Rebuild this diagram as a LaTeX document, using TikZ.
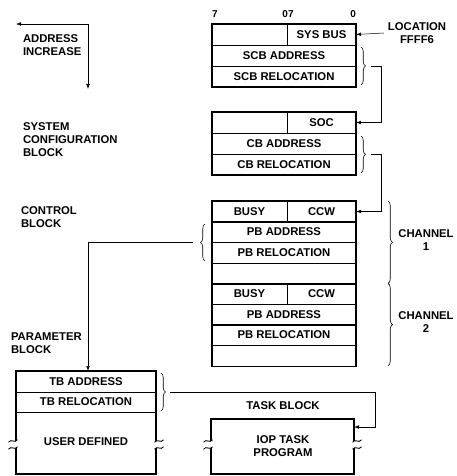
\documentclass[tikz,border=0pt]{standalone}
\usepackage{fontspec}
\setmainfont{Liberation Sans}
\usetikzlibrary{arrows.meta,decorations.pathreplacing,calc}
\begin{document}
\begin{tikzpicture}[x=1pt,y=-1pt,
  every node/.style={inner sep=0pt, outer sep=0pt, font=\fontsize{11.3}{13}\selectfont\bfseries},
  cell/.style={draw, line width=0.55pt, minimum height=21pt, anchor=north west},
  full/.style={cell, minimum width=144pt},
  lefthalf/.style={cell, minimum width=75pt},
  righthalf/.style={cell, minimum width=69pt},
  frame/.style={line width=1.1pt},
  conn/.style={line width=0.5pt},
  arr/.style={conn, -{Latex[length=5pt,width=3.6pt]}},
  br/.style={decorate, decoration={brace, amplitude=4.5pt}, line width=0.6pt},
  lbl/.style={align=left, anchor=north west},
  bits/.style={font=\fontsize{10}{12}\selectfont\bfseries},
  brk/.pic={\draw[line width=0.9pt] (-4.5,1.2) .. controls (-1.5,-2.8) and (1.5,2.8) .. (4.5,-1.2);}
]
\useasboundingbox (0,0) rectangle (457,476);

% ---- address increase
\coordinate (al) at (16,24);
\coordinate (ac) at (88,24);
\coordinate (ad) at (88,89);
\draw[conn, {Latex[length=5pt,width=3.6pt]}-{Latex[length=5pt,width=3.6pt]}] (al) -- (ac) -- (ad);
\node[lbl] (addr) at (23,35) {ADDRESS\\INCREASE};

% ---- left labels
\node[lbl] (scblbl) at (23,123) {SYSTEM\\CONFIGURATION\\BLOCK};
\node[lbl] (cblbl) at (21,207) {CONTROL\\BLOCK};
\node[lbl] (pblbl) at (11,333) {PARAMETER\\BLOCK};

% ---- bit labels
\node[bits, anchor=base west] (b7) at (212,18) {7};
\node[bits, anchor=base] (b07) at (288,18) {07};
\node[bits, anchor=base east] (b0) at (356,18) {0};

% ---- block 1
\node[lefthalf] (sysl) at (212,24) {};
\node[righthalf] (sysbus) at (287,24) {SYS BUS};
\node[full] (scba) at (212,45) {SCB ADDRESS};
\node[full] (scbr) at (212,66) {SCB RELOCATION};
\draw[frame] (sysl.north west) rectangle (scbr.south east);

\node[align=center] (loc) at (417,33) {LOCATION\\FFFF6};
\draw[arr] ([xshift=-4pt]loc.west) -- (sysbus.east);

% ---- block 2
\node[lefthalf] (socl) at (212,112) {};
\node[righthalf] (soc) at (287,112) {SOC};
\node[full] (cba) at (212,133) {CB ADDRESS};
\node[full] (cbr) at (212,154) {CB RELOCATION};
\draw[frame] (socl.north west) rectangle (cbr.south east);

% ---- block 3
\begin{scope}[every node/.append style={minimum height=20.6pt}]
\node[lefthalf] (busy1) at (212,201) {BUSY};
\node[righthalf] (ccw1) at (287,201) {CCW};
\node[full] (pba1) at (212,221.6) {PB ADDRESS};
\node[full] (pbr1) at (212,242.2) {PB RELOCATION};
\node[full] (emp1) at (212,262.8) {};
\node[lefthalf] (busy2) at (212,283.4) {BUSY};
\node[righthalf] (ccw2) at (287,283.4) {CCW};
\node[full] (pba2) at (212,304) {PB ADDRESS};
\node[full] (pbr2) at (212,324.6) {PB RELOCATION};
\node[full] (emp2) at (212,345.2) {};
\end{scope}
\draw[frame] (busy1.north west) rectangle (emp2.south east);

\draw[br] (388,201) -- (388,283.4);
\draw[br] (388,283.4) -- (388,365.8);
\node[align=center] (ch1) at (426,240) {CHANNEL\\1};
\node[align=center] (ch2) at (426,322) {CHANNEL\\2};

% ---- parameter block
\node[cell, minimum width=140pt, minimum height=21pt] (tba) at (16,371) {TB ADDRESS};
\node[cell, minimum width=140pt, minimum height=20pt] (tbr) at (16,392) {TB RELOCATION};
\node (user) at (86,442) {USER DEFINED};
\draw[frame] (16,441) -- (tba.north west) -- (tba.north east) -- (156,441);
\draw[frame] (16,448) -- (16,474) -- (156,474) -- (156,448);
\pic at (13,441) {brk};
\pic at (13,448) {brk};
\pic at (159,441) {brk};
\pic at (159,448) {brk};

% ---- task block
\node (tasklbl) at (283,406) {TASK BLOCK};
\node[align=center] (task) at (283,446) {IOP TASK\\PROGRAM};
\draw[frame] (211,441) -- (211,419) -- (354,419) -- (354,441);
\draw[frame] (211,448) -- (211,474) -- (354,474) -- (354,448);
\pic at (208,441) {brk};
\pic at (208,448) {brk};
\pic at (357,441) {brk};
\pic at (357,448) {brk};
\coordinate (tin) at (354,427);

% ---- braces and connectors
\draw[br] (361,47) -- (361,85);
\coordinate (t1) at (371,66);
\draw[arr] (t1) -- (381,66) |- (soc.east);

\draw[br] (361,136) -- (361,173);
\coordinate (t2) at (371,154.5);
\draw[arr] (t2) -- (381,154.5) |- (ccw1.east);

\draw[br] (205,261) -- (205,224);
\coordinate (t3) at (193,242.2);
\draw[arr] (t3) -| ([xshift=2pt]tba.north);

\draw[br] (161,373) -- (161,411);
\coordinate (t4) at (170,392);
\draw[arr] (t4) -- (375,392) |- (tin);
\end{tikzpicture}
\end{document}
